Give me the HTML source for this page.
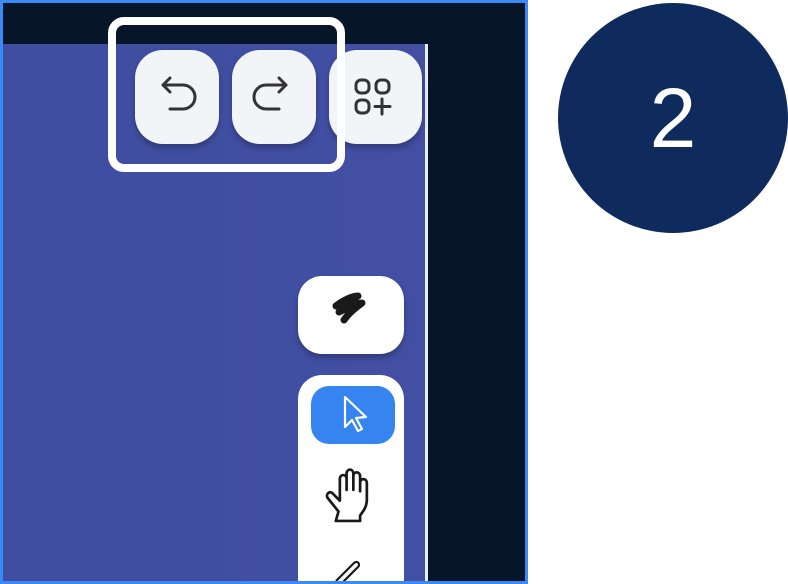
<!DOCTYPE html>
<html style="overflow:hidden"><head><style>
html,body{margin:0;width:788px;height:584px;overflow:hidden}
body{background:#fff;position:relative;font-family:"Liberation Sans",sans-serif}
.a{position:absolute}
.btn{background:#f2f5f8;border-radius:28px;box-shadow:0 4px 6px rgba(0,0,0,.25)}
</style></head><body>
<div class="a" style="left:0;top:0;width:522px;height:578px;border:3px solid #3a8af5;background:#061528;overflow:hidden">
  <div class="a" style="left:0;top:41px;width:422px;height:537px;background:linear-gradient(90deg,#3f4ea0,#424fa3)"></div>
  <div class="a" style="left:422px;top:41px;width:3px;height:537px;background:#e8ecf5"></div>
  <div class="a btn" style="left:132px;top:47px;width:84px;height:94px"></div>
  <div class="a btn" style="left:229px;top:47px;width:84px;height:94px"></div>
  <div class="a btn" style="left:326px;top:47px;width:93px;height:94px"></div>
  <svg class="a" style="left:0;top:0" width="522" height="578">
    <g fill="none" stroke="#333" stroke-width="3" stroke-linecap="round" stroke-linejoin="round">
      <path d="M160 82h20a12 12 0 0 1 0 24h-13M167 75l-7 7 7 7"/>
      <path d="M283 82h-20a12 12 0 0 0 0 24h13M276 75l7 7-7 7"/>
      <rect x="353" y="77" width="13" height="13" rx="5"/><rect x="373" y="77" width="13" height="13" rx="5"/>
      <rect x="353" y="97" width="13" height="13" rx="5"/><path d="M379 96v15M372 103.5h15"/>
    </g>
    <rect x="109" y="18" width="229" height="147" rx="12" fill="none" stroke="#fff" stroke-width="8"/>
  </svg>
  <div class="a" style="left:295px;top:273px;width:106px;height:78px;background:#fff;border-radius:24px;box-shadow:0 4px 6px rgba(0,0,0,.25)"></div>
  <div class="a" style="left:295px;top:372px;width:106px;height:206px;background:#fff;border-radius:24px 24px 0 0"></div>
  <div class="a" style="left:308px;top:383px;width:84px;height:58px;background:#3584f0;border-radius:18px"></div>
  <svg class="a" style="left:0;top:0" width="522" height="578">
    <path d="M333 303c6-5 16-10 22-10-9 6-15 11-19 16 8-4 18-9 23-9-7 5-14 11-18 17" fill="none" stroke="#1a1a1a" stroke-width="7" stroke-linecap="round" stroke-linejoin="round"/>
    <path d="M342 394l0 30 7-7 6 11 4-2-6-11 10-1z" fill="none" stroke="#fff" stroke-width="2.2" stroke-linejoin="round"/>
    <g transform="translate(349,495) scale(1.35) translate(-349,-495)">
    <path d="M339 505l-8-10c-2-3 2-6 4-3l5 5v-16c0-4 5-4 5 0v8-12c0-4 5-4 5 0v12-10c0-4 5-4 5 0v11-6c0-4 5-4 5 0v12c0 6-3 9-5 12v4h-18z" fill="none" stroke="#1a1a1a" stroke-width="2" stroke-linejoin="round"/>
    </g>
    <path d="M333 578l18-18c3-3 7 1 4 4l-18 18" fill="none" stroke="#1a1a1a" stroke-width="2.2"/>
  </svg>
</div>
<div class="a" style="left:558px;top:3px;width:230px;height:230px;border-radius:50%;background:#0f2a5c;color:#fff;font-size:84px;line-height:230px;text-align:center">2</div>
</body></html>
